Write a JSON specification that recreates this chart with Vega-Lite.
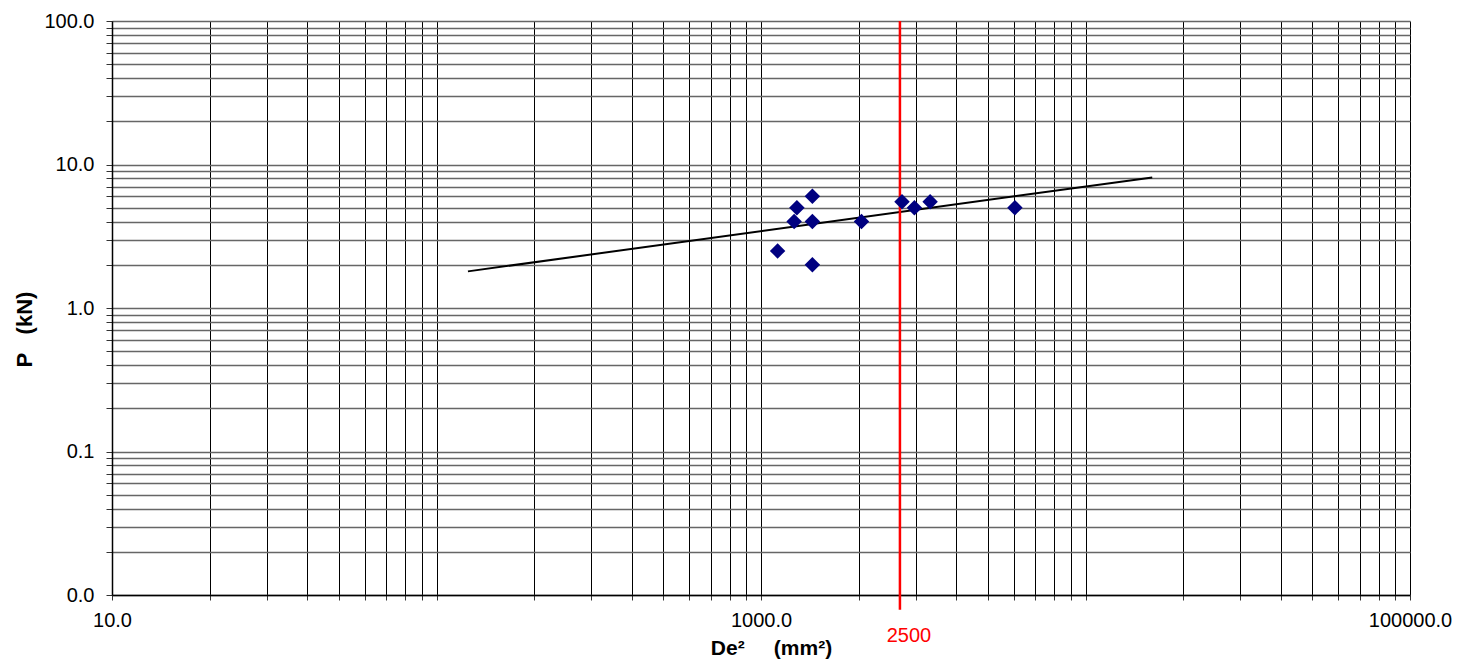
{
  "$schema": "https://vega.github.io/schema/vega-lite/v6.json",
  "width": 1298,
  "height": 574,
  "autosize": "none",
  "padding": {"left": 112, "top": 21, "right": 48, "bottom": 66},
  "background": "white",
  "config": {
    "view": {"stroke": null},
    "font": "Liberation Sans",
    "axis": {"labelFont": "Liberation Sans", "titleFont": "Liberation Sans", "labelColor": "black", "titleColor": "black", "labelFontSize": 20, "titleFontSize": 21, "titleFontWeight": "bold"}
  },
  "datasets": {
    "points": [
      {"De2": 1125, "P": 2.5},
      {"De2": 1290, "P": 5.0},
      {"De2": 1265, "P": 4.0},
      {"De2": 1440, "P": 6.0},
      {"De2": 1440, "P": 4.0},
      {"De2": 1440, "P": 2.0},
      {"De2": 2040, "P": 4.0},
      {"De2": 2720, "P": 5.5},
      {"De2": 2970, "P": 5.0},
      {"De2": 3320, "P": 5.5},
      {"De2": 6060, "P": 5.0}
    ],
    "trend": [
      {"De2": 125, "P": 1.8},
      {"De2": 16060, "P": 8.13}
    ],
    "marker": [
      {"De2": 2680, "Ptop": 100, "Pbottom": 0.0079, "Plabel": 0.01, "label": "2500"}
    ]
  },
  "layer": [
    {
      "data": {"name": "points"},
      "mark": {"type": "point", "shape": "diamond", "filled": true, "color": "#000080", "opacity": 0, "size": 240},
      "encoding": {
        "x": {
          "field": "De2", "type": "quantitative",
          "scale": {"type": "log", "domain": [10, 100000], "nice": false},
          "axis": {
            "title": "De²\u00a0\u00a0\u00a0\u00a0\u00a0(mm²)",
            "titleX": 659, "titleY": 53, "titleAlign": "center", "titleBaseline": "middle",
            "values": [10,20,30,40,50,60,70,80,90,100,200,300,400,500,600,700,800,900,1000,2000,3000,4000,5000,6000,7000,8000,9000,10000,20000,30000,40000,50000,60000,70000,80000,90000,100000],
            "format": ".1f",
            "labelExpr": "(datum.value == 10 || datum.value == 1000 || datum.value == 100000) ? datum.label : ''",
            "labelPadding": 10,
            "labelFlush": false,
            "labelOverlap": false,
            "tickSize": 5,
            "tickColor": "#333",
            "domainColor": "black",
            "domainWidth": 1.5,
            "grid": true,
            "gridColor": "black",
            "gridWidth": 1,
            "gridOpacity": 1
          }
        },
        "y": {
          "field": "P", "type": "quantitative",
          "scale": {"type": "log", "domain": [0.01, 100], "nice": false},
          "axis": {
            "title": "P\u00a0\u00a0\u00a0(kN)",
            "titleFontSize": 22,
            "titleX": -88, "titleY": 308, "titleAlign": "center", "titleBaseline": "middle", "titleAngle": 270,
            "values": [0.01,0.02,0.03,0.04,0.05,0.06,0.07,0.08,0.09,0.1,0.2,0.3,0.4,0.5,0.6,0.7,0.8,0.9,1,2,3,4,5,6,7,8,9,10,20,30,40,50,60,70,80,90,100],
            "format": ".1f",
            "labelExpr": "(datum.value == 0.01 || datum.value == 0.1 || datum.value == 1 || datum.value == 10 || datum.value == 100) ? datum.label : ''",
            "labelPadding": 12,
            "labelFlush": false,
            "labelOverlap": false,
            "tickSize": 6,
            "tickColor": "#333",
            "domainColor": "black",
            "domainWidth": 1.5,
            "grid": true,
            "gridColor": "#666666",
            "gridWidth": 1.4,
            "gridOpacity": 1
          }
        }
      }
    },
    {
      "data": {"name": "trend"},
      "mark": {"type": "line", "color": "black", "strokeWidth": 2},
      "encoding": {
        "x": {"field": "De2", "type": "quantitative"},
        "y": {"field": "P", "type": "quantitative"}
      }
    },
    {
      "data": {"name": "marker"},
      "mark": {"type": "rule", "color": "#ff0000", "strokeWidth": 2.5, "clip": false},
      "encoding": {
        "x": {"field": "De2", "type": "quantitative"},
        "y": {"field": "Ptop", "type": "quantitative"},
        "y2": {"field": "Pbottom"}
      }
    },
    {
      "data": {"name": "marker"},
      "mark": {"type": "text", "color": "#ff0000", "fontSize": 20, "font": "Liberation Sans", "align": "center", "baseline": "middle", "dx": 9, "dy": 41},
      "encoding": {
        "x": {"field": "De2", "type": "quantitative"},
        "y": {"field": "Plabel", "type": "quantitative"},
        "text": {"field": "label"}
      }
    },
    {
      "data": {"name": "points"},
      "mark": {"type": "point", "shape": "diamond", "filled": true, "color": "#000080", "opacity": 1, "size": 240},
      "encoding": {
        "x": {"field": "De2", "type": "quantitative"},
        "y": {"field": "P", "type": "quantitative"}
      }
    }
  ]
}
